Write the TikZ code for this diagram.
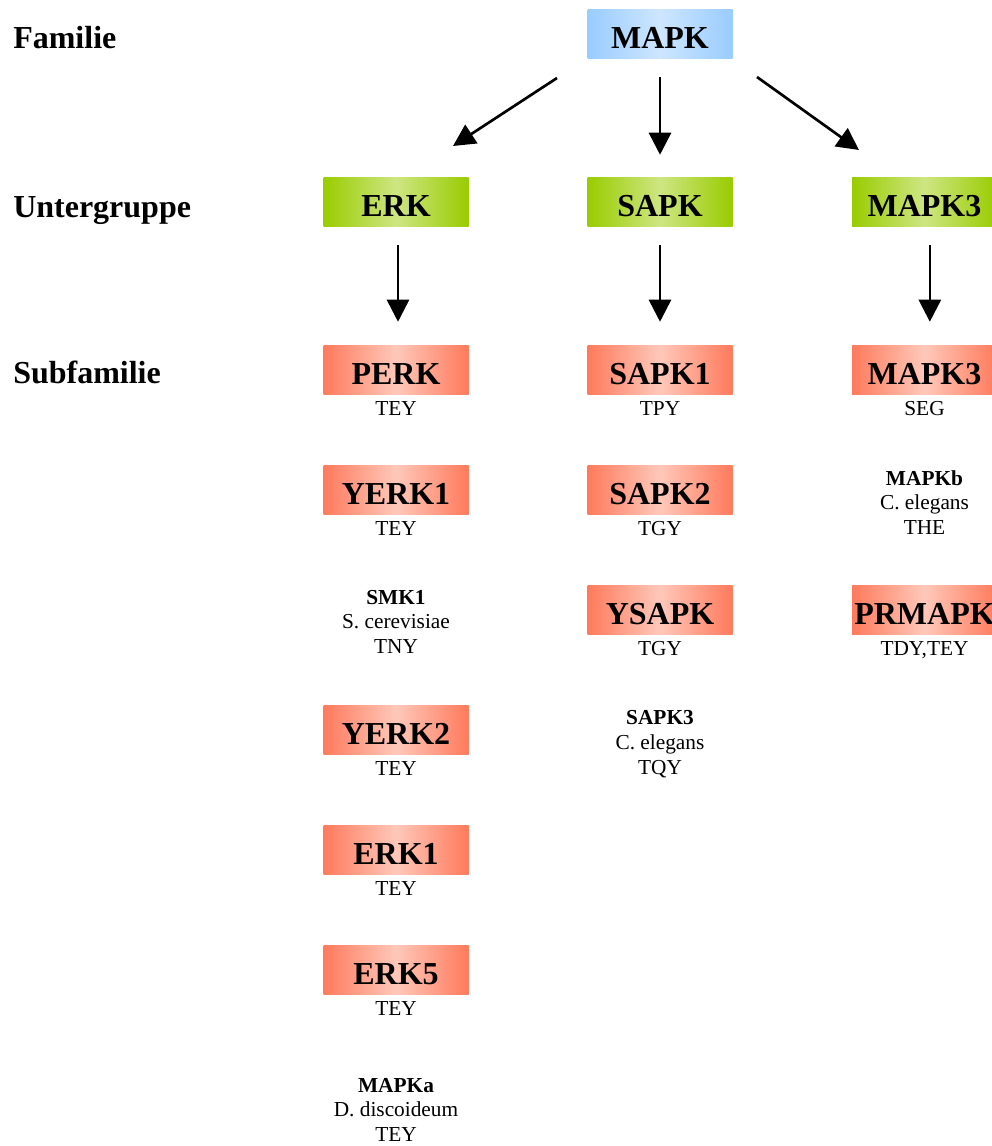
\documentclass[tikz,border=0pt]{standalone}
\usepackage{fontspec}
\setmainfont{Liberation Serif}
\usetikzlibrary{arrows.meta}
\definecolor{blauR}{RGB}{153,204,255}
\definecolor{blauM}{RGB}{206,230,255}
\definecolor{gruenR}{RGB}{153,204,0}
\definecolor{gruenM}{RGB}{206,230,130}
\definecolor{rotR}{RGB}{255,122,92}
\definecolor{rotM}{RGB}{255,200,186}

\begin{document}
\begin{tikzpicture}[x=0.75pt,y=0.75pt,yscale=-1,xscale=1,
  kasten/.style={minimum width=108.75pt,minimum height=36.75pt,inner sep=0pt,font=\fontsize{24}{28}\selectfont\bfseries,text height=22pt,text depth=0pt},
  fam/.style={kasten,left color=blauR,right color=blauR,middle color=blauM},
  grp/.style={kasten,left color=gruenR,right color=gruenR,middle color=gruenM},
  sub/.style={kasten,left color=rotR,right color=rotR,middle color=rotM},
  ebene/.style={inner sep=0pt,anchor=base west,font=\fontsize{24}{28}\selectfont\bfseries},
  motiv/.style={inner sep=0pt,anchor=base,font=\fontsize{16}{18.4}\selectfont},
  art/.style={inner sep=0pt,anchor=base,align=center,font=\fontsize{16}{18.4}\selectfont},
  pfeil/.style={-{Triangle[length=16.5pt,width=16.5pt]},line width=2pt}]
\useasboundingbox (0,0) rectangle (992,1146);

\node[ebene] (l-fam) at (13,48) {Familie};
\node[ebene] (l-grp) at (13,217) {Untergruppe};
\node[ebene] (l-sub) at (13,383) {Subfamilie};

\node[fam] (mapk) at (660,33.5) {MAPK};
\node[grp] (erk) at (396,201.5) {ERK};
\node[grp] (sapk) at (660,201.5) {SAPK};
\node[grp] (mapk3) at (924.5,201.5) {MAPK3};

\node[sub] (perk) at (396,369.5) {PERK};
\node[motiv] (perk-m) at (396,415) {TEY};
\node[sub] (yerk1) at (396,489.5) {YERK1};
\node[motiv] (yerk1-m) at (396,535) {TEY};
\node[art] (smk1) at (396,653.5) {\textbf{SMK1}\\S. cerevisiae\\TNY};
\node[sub] (yerk2) at (396,729.5) {YERK2};
\node[motiv] (yerk2-m) at (396,775) {TEY};
\node[sub] (erk1) at (396,849.5) {ERK1};
\node[motiv] (erk1-m) at (396,895) {TEY};
\node[sub] (erk5) at (396,969.5) {ERK5};
\node[motiv] (erk5-m) at (396,1015) {TEY};
\node[art] (mapka) at (396,1141.5) {\textbf{MAPKa}\\D. discoideum\\TEY};

\node[sub] (sapk1) at (660,369.5) {SAPK1};
\node[motiv] (sapk1-m) at (660,415) {TPY};
\node[sub] (sapk2) at (660,489.5) {SAPK2};
\node[motiv] (sapk2-m) at (660,535) {TGY};
\node[sub] (ysapk) at (660,609.5) {YSAPK};
\node[motiv] (ysapk-m) at (660,655) {TGY};
\node[art] (sapk3) at (660,774) {\textbf{SAPK3}\\C. elegans\\TQY};

\node[sub] (mapk3s) at (924.5,369.5) {MAPK3};
\node[motiv] (mapk3s-m) at (924.5,415) {SEG};
\node[art] (mapkb) at (924.5,534.5) {\textbf{MAPKb}\\C. elegans\\THE};
\node[sub] (prmapk) at (924.5,609.5) {PRMAPK};
\node[motiv] (prmapk-m) at (924.5,655) {TDY,TEY};

\coordinate (p1a) at (557,78);
\coordinate (p1b) at (453,146);
\coordinate (p3a) at (757,77);
\coordinate (p3b) at (859,150);
\draw[pfeil] (p1a) -- (p1b);
\draw[pfeil,shorten <=14.25pt,shorten >=16.5pt] (mapk.south) -- (sapk.north);
\draw[pfeil] (p3a) -- (p3b);
\draw[pfeil,shorten <=14.25pt,shorten >=17.25pt] ([xshift=1.5pt]erk.south) -- ([xshift=1.5pt]perk.north);
\draw[pfeil,shorten <=14.25pt,shorten >=17.25pt] (sapk.south) -- (sapk1.north);
\draw[pfeil,shorten <=14.25pt,shorten >=17.25pt] ([xshift=4pt]mapk3.south) -- ([xshift=4pt]mapk3s.north);
\end{tikzpicture}
\end{document}
